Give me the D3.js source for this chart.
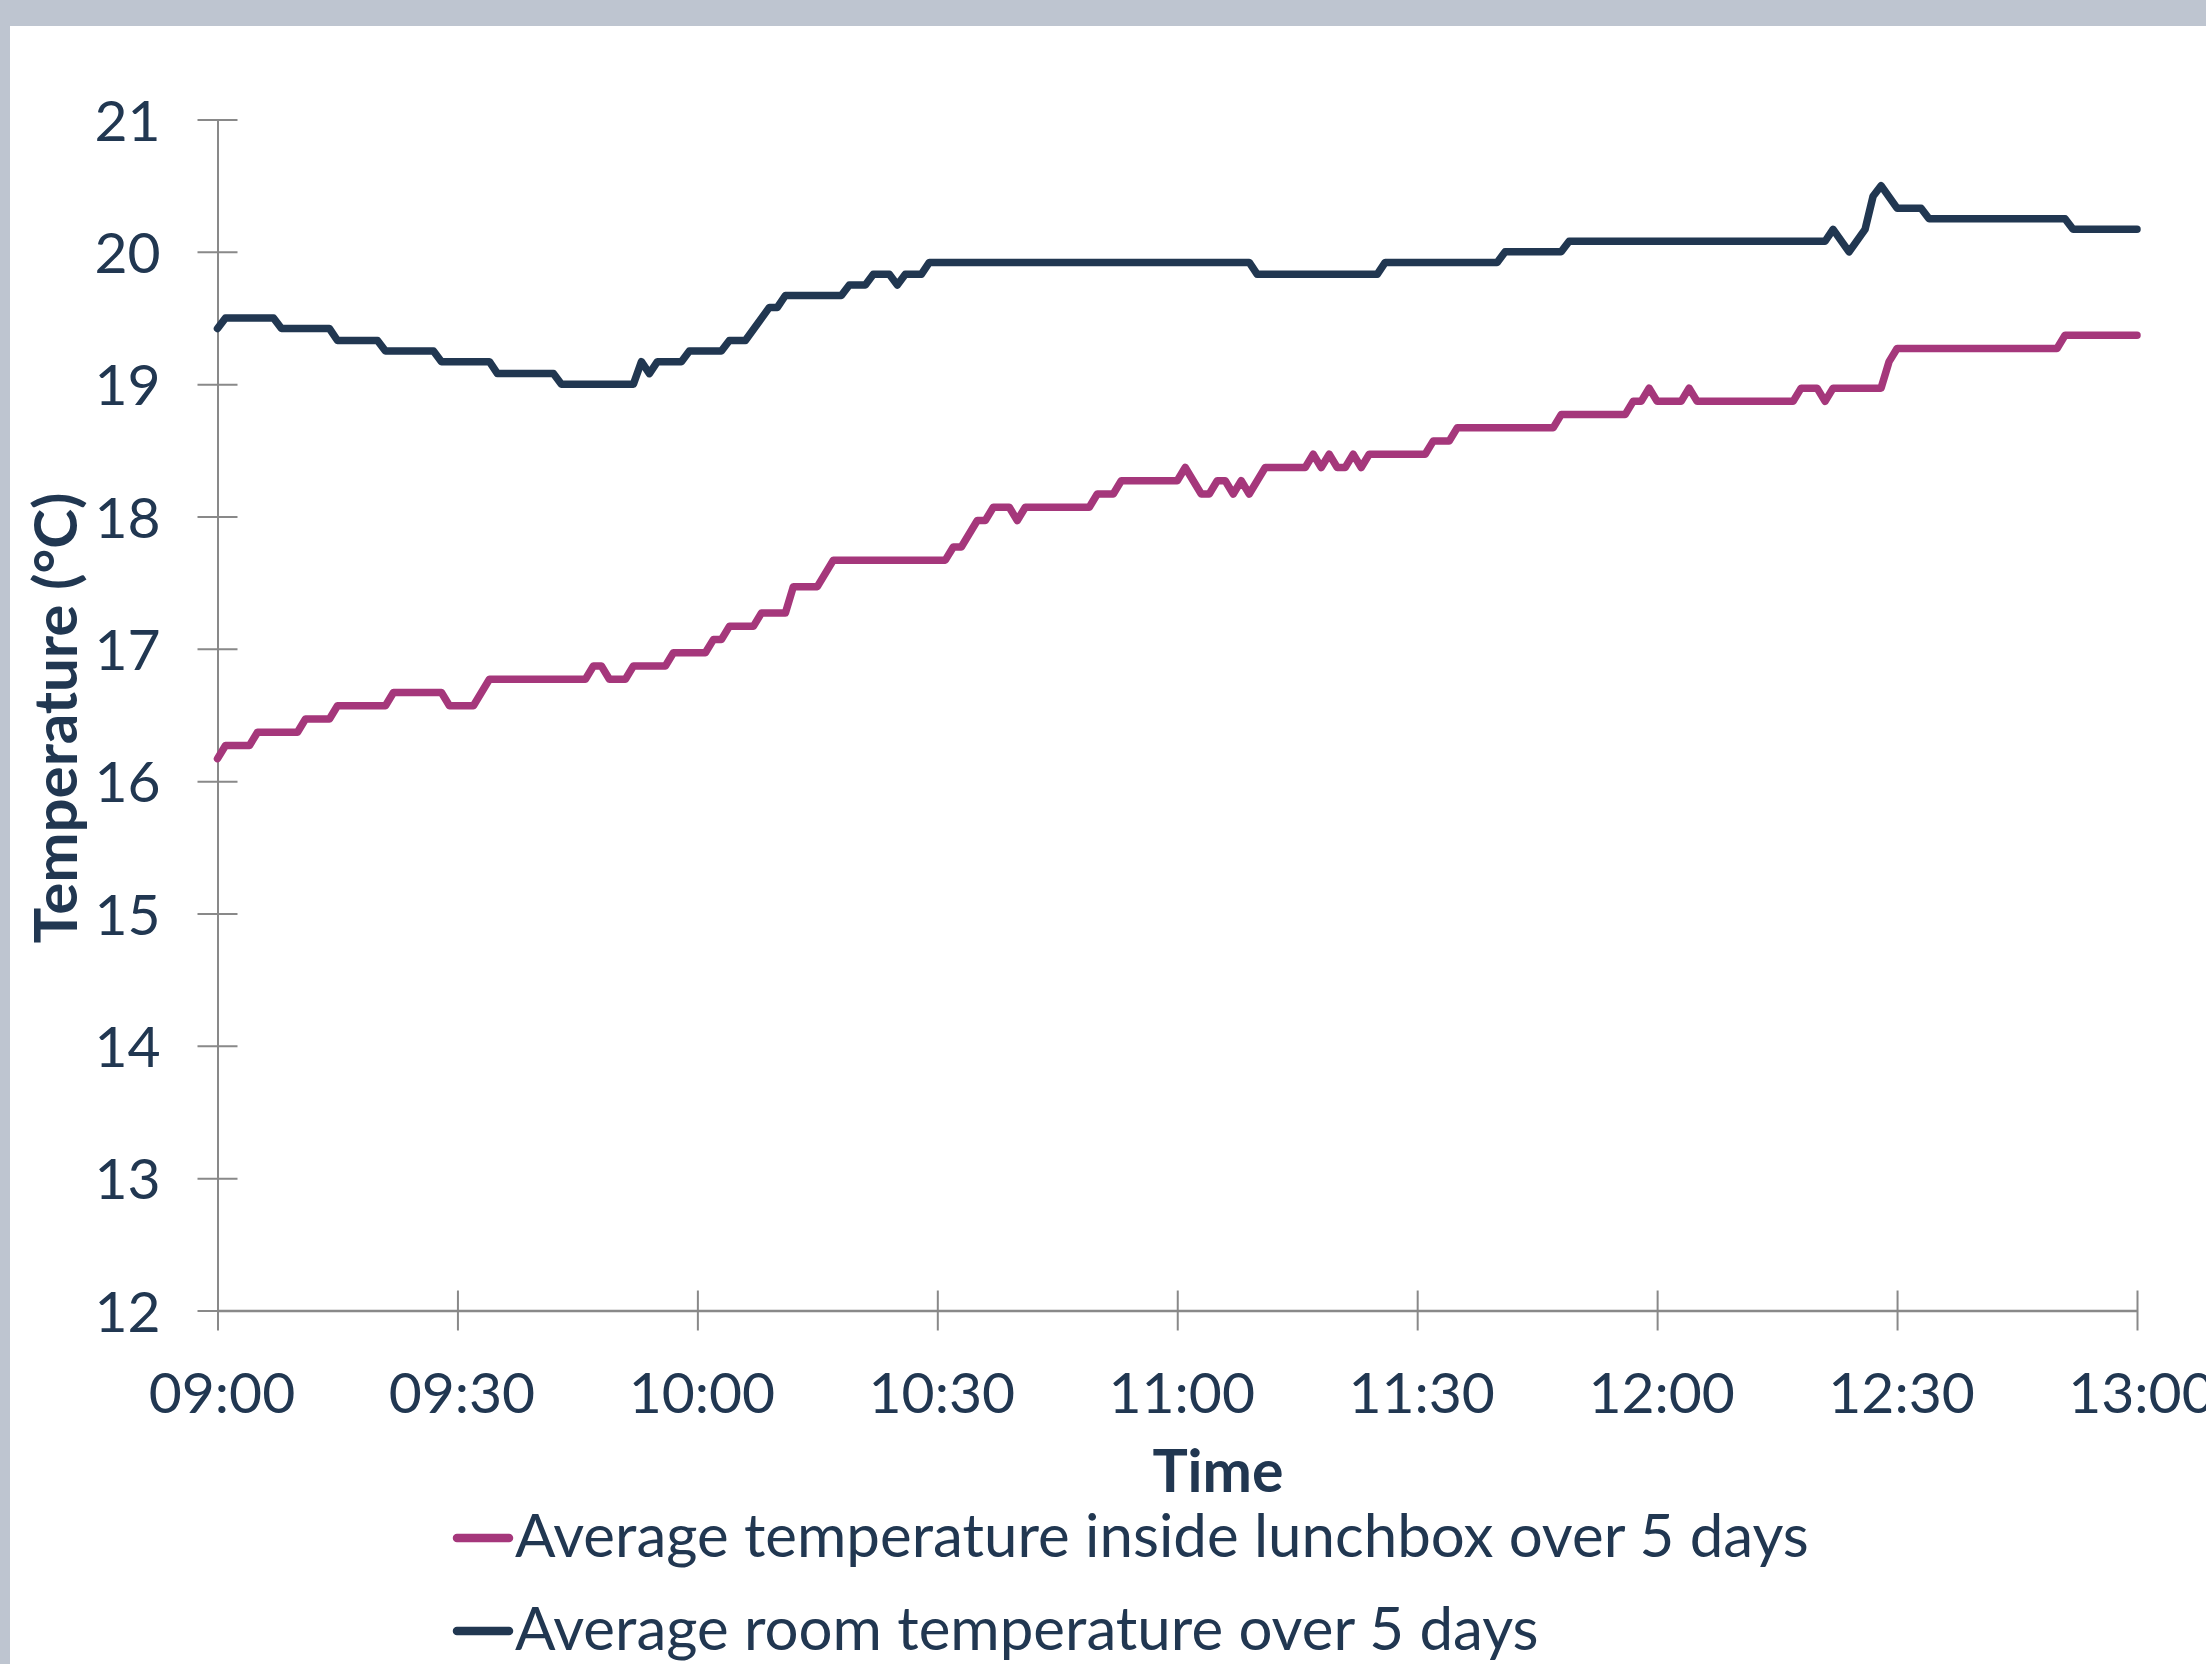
<!DOCTYPE html>
<html>
<head>
<meta charset="utf-8">
<script src="https://cdn.jsdelivr.net/npm/d3@7"></script>
<style>
  body { margin: 0; background: #fff; }
  svg text { font-family: Lato, "Open Sans", sans-serif; fill: #213751; }
</style>
</head>
<body>
<div id="chart"></div>
<script>
// readings (vertices of each line) - time of day and average temperature in °C
var lunchboxTimes = ["09:00","09:01","09:04","09:05","09:10","09:11","09:14","09:15","09:21","09:22",
  "09:28","09:29","09:32","09:34","09:46","09:47","09:48","09:49","09:51","09:52",
  "09:56","09:57","10:01","10:02","10:03","10:04","10:07","10:08","10:11","10:12",
  "10:15","10:17","10:31","10:32","10:33","10:35","10:36","10:37","10:39","10:40",
  "10:41","10:49","10:50","10:52","10:53","11:00","11:01","11:03","11:04","11:05",
  "11:06","11:07","11:08","11:09","11:11","11:16","11:17","11:18","11:19","11:20",
  "11:21","11:22","11:23","11:24","11:31","11:32","11:34","11:35","11:47","11:48",
  "11:56","11:57","11:58","11:59","12:00","12:03","12:04","12:05","12:17","12:18",
  "12:20","12:21","12:22","12:28","12:29","12:30","12:50","12:51","13:00"];
var lunchboxTemps = [16.17,16.27,16.27,16.37,16.37,16.47,16.47,16.57,16.57,16.67,
  16.67,16.57,16.57,16.77,16.77,16.87,16.87,16.77,16.77,16.87,
  16.87,16.97,16.97,17.07,17.07,17.17,17.17,17.27,17.27,17.47,
  17.47,17.67,17.67,17.77,17.77,17.97,17.97,18.07,18.07,17.97,
  18.07,18.07,18.17,18.17,18.27,18.27,18.37,18.17,18.17,18.27,
  18.27,18.17,18.27,18.17,18.37,18.37,18.47,18.37,18.47,18.37,
  18.37,18.47,18.37,18.47,18.47,18.57,18.57,18.67,18.67,18.77,
  18.77,18.87,18.87,18.97,18.87,18.87,18.97,18.87,18.87,18.97,
  18.97,18.87,18.97,18.97,19.17,19.27,19.27,19.37,19.37];

var roomTimes = ["09:00","09:01","09:07","09:08","09:14","09:15","09:20","09:21","09:27","09:28",
  "09:34","09:35","09:42","09:43","09:52","09:53","09:54","09:55","09:58","09:59",
  "10:03","10:04","10:06","10:09","10:10","10:11","10:18","10:19","10:21","10:22",
  "10:24","10:25","10:26","10:28","10:29","11:09","11:10","11:25","11:26","11:40",
  "11:41","11:48","11:49","12:21","12:22","12:24","12:26","12:27","12:28","12:30",
  "12:33","12:34","12:51","12:52","13:00"];
var roomTemps = [19.42,19.5,19.5,19.42,19.42,19.33,19.33,19.25,19.25,19.17,
  19.17,19.08,19.08,19.0,19.0,19.17,19.08,19.17,19.17,19.25,
  19.25,19.33,19.33,19.58,19.58,19.67,19.67,19.75,19.75,19.83,
  19.83,19.75,19.83,19.83,19.92,19.92,19.83,19.83,19.92,19.92,
  20.0,20.0,20.08,20.08,20.17,20.0,20.17,20.42,20.5,20.33,
  20.33,20.25,20.25,20.17,20.17];

var seriesNames = ["Average temperature inside lunchbox over 5 days", "Average room temperature over 5 days"];
var seriesColors = ["#a5377b", "#213751"];
var yTicks = [12, 13, 14, 15, 16, 17, 18, 19, 20, 21];
var xTickLabels = ["09:00", "09:30", "10:00", "10:30", "11:00", "11:30", "12:00", "12:30", "13:00"];

var W = 2206, H = 1664;
var margin = {top: 119.5, right: 69, bottom: 353.5, left: 217.5},
    width = W - margin.left - margin.right,
    height = H - margin.top - margin.bottom;

var parseTime = d3.timeParse("%H:%M");

var svg0 = d3.select("#chart")
  .append("svg")
  .attr("width", W)
  .attr("height", H);

// grey frame bits from the slide
svg0.append("rect").attr("x", 0).attr("y", 0).attr("width", W).attr("height", 26).attr("fill", "#bec5d0");
svg0.append("rect").attr("x", 0).attr("y", 0).attr("width", 10).attr("height", H).attr("fill", "#bec5d0");

var svg = svg0.append("g")
  .attr("transform", `translate(${margin.left},${margin.top})`);

var x = d3.scaleTime()
  .domain([parseTime(xTickLabels[0]), parseTime(xTickLabels[xTickLabels.length - 1])])
  .range([0, width]);

var y = d3.scaleLinear()
  .domain([yTicks[0], yTicks[yTicks.length - 1]])
  .range([height, 0]);

var axisColor = "#898989";

// Y axis, ticks cross the line
var gy = svg.append("g")
  .call(d3.axisLeft(y).tickValues(yTicks).tickSize(20).tickSizeOuter(0).tickPadding(37));
gy.select(".domain").attr("stroke", axisColor).attr("stroke-width", 2);
gy.selectAll(".tick line").attr("x1", 20).attr("stroke", axisColor).attr("stroke-width", 2);
gy.selectAll(".tick text")
  .attr("dy", "0.36em")
  .style("font-size", "57px")
  .style("font-family", "Lato, sans-serif")
  .attr("fill", "#213751");

// X axis
var gx = svg.append("g")
  .attr("transform", `translate(0,${height})`)
  .call(d3.axisBottom(x)
    .tickValues(xTickLabels.map(parseTime))
    .tickFormat(d3.timeFormat("%H:%M"))
    .tickSize(20).tickSizeOuter(0).tickPadding(42));
gx.select(".domain").attr("stroke", axisColor).attr("stroke-width", 2.5);
gx.selectAll(".tick line").attr("y1", -20).attr("stroke", axisColor).attr("stroke-width", 2);
gx.selectAll(".tick text")
  .attr("dx", "0.07em")
  .style("font-size", "57px")
  .style("font-family", "Lato, sans-serif")
  .attr("fill", "#213751");

// axis titles
svg0.append("text")
  .attr("x", 1218)
  .attr("y", 1492)
  .attr("text-anchor", "middle")
  .style("font-size", "59px")
  .style("font-weight", "bold")
  .text("Time");

svg0.append("text")
  .attr("transform", "translate(77,718) rotate(-90)")
  .attr("text-anchor", "middle")
  .style("font-size", "60px")
  .style("font-weight", "bold")
  .text("Temperature (°C)");

// lines
var series = [
  lunchboxTimes.map((t, i) => ({time: parseTime(t), temp: lunchboxTemps[i]})),
  roomTimes.map((t, i) => ({time: parseTime(t), temp: roomTemps[i]}))
];

var line = d3.line()
  .x(d => x(d.time))
  .y(d => y(d.temp));

svg.selectAll(".series")
  .data(series)
  .join("path")
  .attr("class", "series")
  .attr("fill", "none")
  .attr("stroke", (d, i) => seriesColors[i])
  .attr("stroke-width", 7.5)
  .attr("stroke-linejoin", "round")
  .attr("stroke-linecap", "round")
  .attr("d", line);

// legend below the chart
var legendX = 457, legendY = 1538, legendStep = 93;
var legend = svg0.selectAll(".legend")
  .data(seriesNames)
  .join("g")
  .attr("class", "legend")
  .attr("transform", (d, i) => `translate(${legendX},${legendY + i * legendStep})`);

legend.append("line")
  .attr("x1", 0).attr("x2", 52)
  .attr("stroke", (d, i) => seriesColors[i])
  .attr("stroke-width", 8.5)
  .attr("stroke-linecap", "round");

legend.append("text")
  .attr("x", 58)
  .attr("dy", "0.31em")
  .style("font-size", "60px")
  .text(d => d);
</script>
</body>
</html>
